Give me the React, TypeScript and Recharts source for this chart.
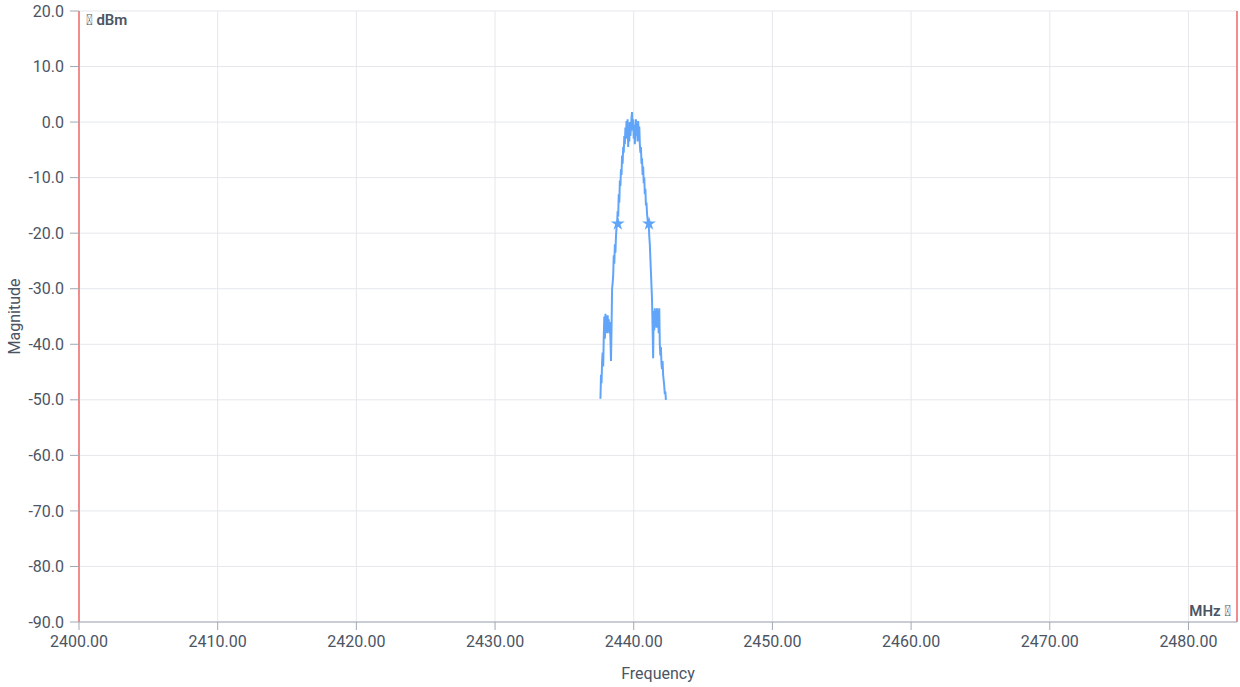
import React from 'react'
import {
  ComposedChart,
  Line,
  Scatter,
  XAxis,
  YAxis,
  ZAxis,
  CartesianGrid,
  ReferenceLine,
} from 'recharts'

// spectrum trace (MHz / dBm)
const frequency = [
  2437.60, 2437.64, 2437.68, 2437.72, 2437.76, 2437.80, 2437.84, 2437.88, 2437.92, 2437.96,
  2438.00, 2438.04, 2438.08, 2438.12, 2438.16, 2438.20, 2438.24, 2438.28, 2438.32, 2438.36,
  2438.40, 2438.44, 2438.48, 2438.52, 2438.56, 2438.60, 2438.64, 2438.68, 2438.72, 2438.76,
  2438.80, 2438.84, 2438.88, 2438.92, 2438.96, 2439.00, 2439.04, 2439.08, 2439.12, 2439.16,
  2439.20, 2439.24, 2439.28, 2439.32, 2439.36, 2439.40, 2439.44, 2439.48, 2439.52, 2439.56,
  2439.60, 2439.64, 2439.68, 2439.72, 2439.76, 2439.80, 2439.84, 2439.88, 2439.92, 2439.96,
  2440.00, 2440.04, 2440.08, 2440.12, 2440.16, 2440.20, 2440.24, 2440.28, 2440.32, 2440.36,
  2440.40, 2440.44, 2440.48, 2440.52, 2440.56, 2440.60, 2440.64, 2440.68, 2440.72, 2440.76,
  2440.80, 2440.84, 2440.88, 2440.92, 2440.96, 2441.00, 2441.04, 2441.08, 2441.12, 2441.16,
  2441.20, 2441.24, 2441.28, 2441.32, 2441.36, 2441.40, 2441.44, 2441.48, 2441.52, 2441.56,
  2441.60, 2441.64, 2441.68, 2441.72, 2441.76, 2441.80, 2441.84, 2441.88, 2441.92, 2441.96,
  2442.00, 2442.04, 2442.08, 2442.12, 2442.16, 2442.20, 2442.24, 2442.28, 2442.32,
]

const magnitude = [
  -49.8, -45.5, -47.0, -43.0, -41.5, -44.0, -38.5, -35.0, -39.0, -34.5,
  -36.5, -35.0, -38.0, -34.8, -37.5, -35.5, -38.0, -36.0, -39.0, -43.0,
  -37.0, -30.0, -29.0, -27.5, -24.0, -25.5, -22.0, -23.5, -20.5, -19.0,
  -18.3, -16.0, -17.0, -13.0, -14.5, -10.5, -11.5, -8.5, -9.5, -6.0,
  -7.5, -4.5, -5.5, -2.5, -4.0, -1.0, -3.0, 0.2, -2.0, 0.5,
  -4.5, -1.0, -3.5, 0.0, -2.5, -1.0, 0.8, 1.8, -1.5, 0.5,
  -3.0, -0.5, -4.0, -1.5, 0.5, -2.5, -0.5, -3.5, 0.2, -2.0,
  -0.8, -4.0, -5.5, -4.5, -7.5, -6.5, -9.5, -8.0, -11.0, -10.0,
  -13.0, -12.0, -15.0, -14.5, -16.5, -17.5, -18.5, -18.0, -20.5, -22.0,
  -24.5, -27.0, -29.5, -32.0, -37.0, -42.5, -34.0, -37.5, -33.5, -36.5,
  -34.0, -37.0, -33.5, -36.0, -34.5, -38.0, -33.5, -40.0, -42.0, -40.5,
  -43.5, -44.5, -43.0, -45.5, -46.5, -47.5, -49.0, -48.5, -50.0,
]

// -20 dB bandwidth markers
const markerFrequency = [2438.85, 2441.1]
const markerMagnitude = [-18.3, -18.3]

const xTicks = [2400, 2410, 2420, 2430, 2440, 2450, 2460, 2470, 2480]
const yTicks = [20, 10, 0, -10, -20, -30, -40, -50, -60, -70, -80, -90]

const rangeStart = 2400
const rangeEnd = 2483.5

const trace = frequency.map((f, i) => ({ freq: f, mag: magnitude[i] }))
const markers = markerFrequency.map((f, i) => ({ freq: f, mag: markerMagnitude[i] }))

const BLUE = '#60a5fa'
const RED = '#f28b8b'
const TEXT = '#4b5563'
const ICON = '\uE8B6'

export default function App() {
  return (
    <div style={{ position: 'absolute', left: 0, top: 0, fontFamily: 'Roboto, sans-serif' }}>
      <ComposedChart
        width={1240}
        height={687}
        margin={{ top: 11, right: 3, left: 0, bottom: 0 }}
      >
        <CartesianGrid stroke="#e5e7eb" />
        <XAxis
          dataKey="freq"
          type="number"
          domain={[rangeStart, rangeEnd]}
          ticks={xTicks}
          allowDataOverflow
          height={65}
          tickSize={8}
          tickMargin={6}
          stroke="#a1a8b3"
          tick={{ fill: TEXT, fontSize: 16 }}
          tickFormatter={(v: number) => v.toFixed(2)}
          label={{ value: 'Frequency', position: 'insideBottom', offset: 8, fill: TEXT, fontSize: 16 }}
        />
        <YAxis
          dataKey="mag"
          type="number"
          domain={[-90, 20]}
          ticks={yTicks}
          width={79}
          tickSize={9}
          tickMargin={6}
          axisLine={false}
          stroke="#a1a8b3"
          tick={{ fill: TEXT, fontSize: 16 }}
          tickFormatter={(v: number) => v.toFixed(1)}
          label={{
            value: 'Magnitude',
            angle: -90,
            position: 'insideLeft',
            offset: 14,
            fill: TEXT,
            fontSize: 16,
            style: { textAnchor: 'middle' },
          }}
        />
        <ZAxis range={[60, 60]} />
        <ReferenceLine
          x={rangeStart}
          stroke={RED}
          strokeWidth={2}
          label={{ value: `${ICON} dBm`, position: 'insideTopLeft', offset: 7, dy: -4, fill: TEXT, fontSize: 15, fontWeight: 600 }}
        />
        <ReferenceLine
          x={rangeEnd}
          stroke={RED}
          strokeWidth={2}
          label={{ value: `MHz ${ICON}`, position: 'insideBottomRight', offset: 6, fill: TEXT, fontSize: 15, fontWeight: 600 }}
        />
        <Line
          data={trace}
          dataKey="mag"
          type="linear"
          stroke={BLUE}
          strokeWidth={2}
          dot={false}
          isAnimationActive={false}
        />
        <Scatter
          data={markers}
          dataKey="mag"
          shape="star"
          fill={BLUE}
          isAnimationActive={false}
        />
      </ComposedChart>
    </div>
  )
}
